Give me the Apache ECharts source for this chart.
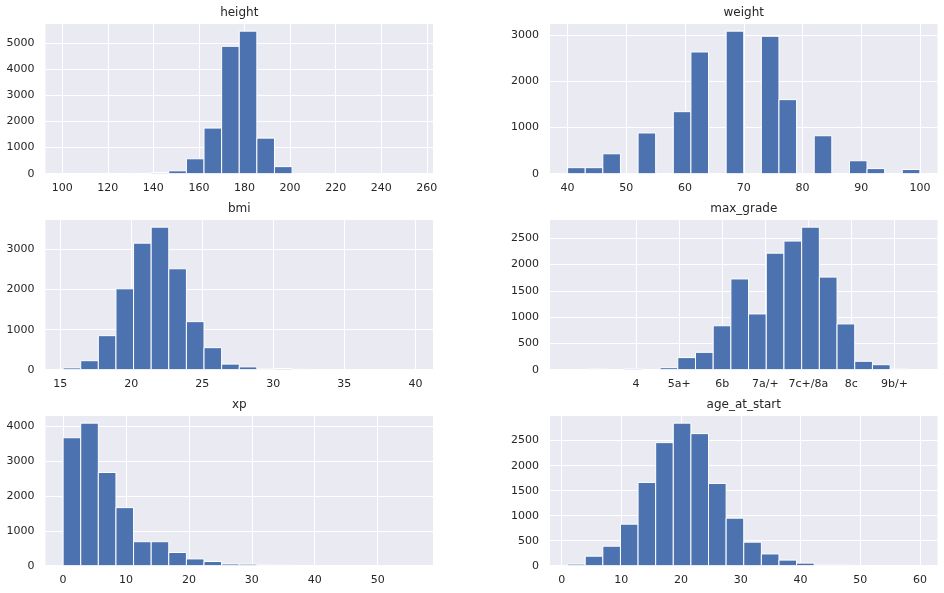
<!DOCTYPE html>
<html><head><meta charset="utf-8">
<script src="https://cdn.jsdelivr.net/npm/echarts@6/dist/echarts.min.js"></script>
<style>html,body{margin:0;padding:0;background:#fff}#c{width:944px;height:593px}</style>
</head><body><div id="c"></div><script>
// ---------- data (histogram counts, 20 bins each unless stated) ----------
const heightBinStart = 100.4, heightBinWidth = 7.73;
const heightCounts = [2, 0, 10, 8, 10, 45, 110, 570, 1745, 4870, 5450, 1360, 270, 10, 1, 0, 0, 0, 0, 1];
const heightTicks = [100, 120, 140, 160, 180, 200, 220, 240, 260];

const weightBinStart = 40, weightBinWidth = 3;
const weightCounts = [130, 130, 430, 0, 880, 0, 1340, 2630, 0, 3080, 0, 2970, 1600, 0, 820, 0, 280, 110, 0, 90];
const weightTicks = [40, 50, 60, 70, 80, 90, 100];

const bmiBinStart = 15.2, bmiBinWidth = 1.24;
const bmiCounts = [45, 225, 850, 2020, 3160, 3560, 2520, 1200, 550, 140, 70, 15, 30, 8, 5, 2, 1, 0, 0, 1];
const bmiTicks = [15, 20, 25, 30, 35, 40];

// max_grade: coded grade scale (tick labels at codes 1..7), 18 bins shown
const gradeBinStart = -0.087, gradeBinWidth = 0.411;
const gradeCounts = [10, 0, 25, 0, 38, 230, 330, 835, 1725, 1060, 2215, 2445, 2710, 1760, 870, 160, 95, 10];
const gradeTicks = [1, 2, 3, 4, 5, 6, 7];
const gradeTickLabels = ['4', '5a+', '6b', '7a/+', '7c+/8a', '8c', '9b/+'];
const gradeAxisRange = [-1, 8];

const xpBinStart = 0, xpBinWidth = 2.8;
const xpCounts = [3680, 4100, 2680, 1670, 690, 690, 380, 195, 120, 50, 45, 15, 10, 3, 2, 1, 0, 0, 0, 1];
const xpTicks = [0, 10, 20, 30, 40, 50];

const ageBinStart = 1, ageBinWidth = 2.95;
const ageCounts = [32, 190, 390, 830, 1665, 2460, 2850, 2640, 1645, 950, 470, 235, 112, 52, 12, 12, 2, 1, 0, 1];
const ageTicks = [0, 10, 20, 30, 40, 50, 60];

// ---------- layout ----------
const colLeft = [45.5, 550], colWidth = 387.5;
const rowTop = [24, 220, 416], rowHeight = 149.7;
const BG = '#EAEAF2', BAR = '#4C72B0', TXT = '#262626', FONT = 'DejaVu Sans';

const panels = [
  {title: 'height', start: heightBinStart, w: heightBinWidth, counts: heightCounts, ticks: heightTicks, yStep: 1000, row: 0, col: 0},
  {title: 'weight', start: weightBinStart, w: weightBinWidth, counts: weightCounts, ticks: weightTicks, yStep: 1000, row: 0, col: 1},
  {title: 'bmi', start: bmiBinStart, w: bmiBinWidth, counts: bmiCounts, ticks: bmiTicks, yStep: 1000, row: 1, col: 0},
  {title: 'max_grade', start: gradeBinStart, w: gradeBinWidth, counts: gradeCounts, ticks: gradeTicks, labels: gradeTickLabels, range: gradeAxisRange, yStep: 500, row: 1, col: 1},
  {title: 'xp', start: xpBinStart, w: xpBinWidth, counts: xpCounts, ticks: xpTicks, yStep: 1000, row: 2, col: 0},
  {title: 'age_at_start', start: ageBinStart, w: ageBinWidth, counts: ageCounts, ticks: ageTicks, yStep: 500, row: 2, col: 1}
];

const grid = [], xAxis = [], yAxis = [], series = [], graphic = [];
const labelStyle = {color: TXT, fontSize: 11, fontFamily: FONT};

panels.forEach((p, i) => {
  const left = colLeft[p.col], top = rowTop[p.row];
  const dMin = p.start, dMax = p.start + p.counts.length * p.w;
  let aMin, aMax;
  if (p.range) { aMin = p.range[0]; aMax = p.range[1]; }
  else { const s = dMax - dMin; aMin = dMin - 0.05 * s; aMax = dMax + 0.05 * s; }
  const yMax = Math.max.apply(null, p.counts) * 1.05;
  const t0 = p.ticks[0], t1 = p.ticks[p.ticks.length - 1];
  const px = v => left + (v - aMin) / (aMax - aMin) * colWidth;
  const tLeft = px(t0), tWidth = px(t1) - px(t0);

  // frame grid (background + y grid + bars)
  grid.push({left: left, top: top, width: colWidth, height: rowHeight, show: true, backgroundColor: BG, borderWidth: 0, outerBoundsMode: 'none'});
  // tick grid (x labels + x grid lines)
  grid.push({left: tLeft, top: top, width: tWidth, height: rowHeight, show: false, outerBoundsMode: 'none'});

  xAxis.push({gridIndex: 2 * i, type: 'value', min: aMin, max: aMax, show: false});
  const labels = p.labels, ticks = p.ticks;
  xAxis.push({gridIndex: 2 * i + 1, type: 'value', min: t0, max: t1, interval: ticks[1] - ticks[0],
    axisLine: {show: false}, axisTick: {show: false},
    splitLine: {show: true, lineStyle: {color: '#fff', width: 1}},
    axisLabel: Object.assign({margin: 9, formatter: v => {
      if (!labels) return String(v);
      const k = ticks.indexOf(Math.round(v * 1000) / 1000);
      return k >= 0 ? labels[k] : '';
    }}, labelStyle)});

  yAxis.push({gridIndex: 2 * i, type: 'value', min: 0, max: yMax, interval: p.yStep,
    axisLine: {show: false}, axisTick: {show: false},
    splitLine: {show: true, showMaxLine: false, lineStyle: {color: '#fff', width: 1}},
    axisLabel: Object.assign({margin: 11, showMaxLabel: false, formatter: v => String(Math.round(v))}, labelStyle)});
  yAxis.push({gridIndex: 2 * i + 1, type: 'value', min: 0, max: yMax, show: false, splitLine: {show: false}});

  const data = p.counts.map((c, k) => [p.start + k * p.w, p.start + (k + 1) * p.w, c]);
  series.push({
    type: 'custom', xAxisIndex: 2 * i, yAxisIndex: 2 * i, z: 2, silent: true,
    encode: {x: [0, 1], y: 2},
    data: data,
    renderItem: (params, api) => {
      const a = api.coord([api.value(0), api.value(2)]);
      const b = api.coord([api.value(1), 0]);
      return {type: 'rect', shape: {x: a[0], y: a[1], width: b[0] - a[0], height: b[1] - a[1]},
        style: {fill: BAR, stroke: '#fff', lineWidth: 1}};
    }
  });

  graphic.push({type: 'text', x: left + colWidth / 2, y: top - 11.6, silent: true,
    style: {text: p.title, align: 'center', verticalAlign: 'middle', fill: TXT, fontSize: 12, fontFamily: FONT}});
});

const chart = echarts.init(document.getElementById('c'), null, {renderer: 'canvas'});
chart.setOption({animation: false, backgroundColor: '#fff', grid, xAxis, yAxis, series, graphic});
</script></body></html>
